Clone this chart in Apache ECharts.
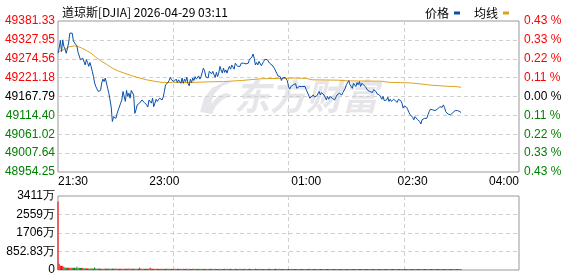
<!DOCTYPE html>
<html><head><meta charset="utf-8">
<script src="https://cdn.jsdelivr.net/npm/echarts@6/dist/echarts.min.js"></script>
<style>html,body{margin:0;padding:0;background:#fff}#c{width:578px;height:276px}</style>
</head><body><div id="c"></div>
<script>
const titleText = '道琼斯[DJIA] 2026-04-29 03:11';
const legendNames = ['价格', '均线'];
const priceTickLabels = ['49381.33','49327.95','49274.56','49221.18','49167.79','49114.40','49061.02','49007.64','48954.25'];
const pctTickLabels = ['0.43 %','0.33 %','0.22 %','0.11 %','0.00 %','0.11 %','0.22 %','0.33 %','0.43 %'];
const volTickLabels = ['0','852.83万','1706万','2559万','3411万'];
const xTickMinutes = [0, 90, 210, 300, 390];
const xTickLabels = ['21:30','23:00','01:00','02:30','04:00'];
const priceMin = 48954.25, priceMax = 49381.33;
const volInterval = 852.83;
const sessionMinutes = 390;

// price per minute since 21:30 (null = not read)
const prices = [
49290,49305,49326,49295,49328,49309,49302,49290,49305,49319,
49347,49352,49347,49326,49319,49317,49311,49292,49290,49272,
49267,49276,49273,49257,49272,49264,49253,49264,49253,49239,
49224,49206,49196,49191,49182,49177,49185,49206,49217,49210,
49220,49215,49191,49177,49158,49138,49097,49111,49116,49106,
49120,49130,49128,49149,49158,49182,49168,49154,49185,49168,
49177,49163,49185,49189,49172,49120,49130,49144,49141,49149,
49151,49158,49163,49151,49156,49144,49138,49158,49163,49149,
49163,49139,49149,49160,49154,49158,49163,49166,49158,49166,
49182,49201,49196,49207,49213,49222,49215,49210,49210,
49212,49217,49207,49215,49217,49205,49220,49205,49217,49210,
49222,49204,49198,49217,49207,49220,49213,49224,49217,49220,
49226,49217,49224,49220,49248,49241,49224,49229,49220,49239,
49236,49232,49239,49229,49222,49236,49224,49234,49253,49243,
49234,49248,49236,49243,49234,49245,49253,49245,49257,49255,
49245,49262,49257,49253,49257,49253,49262,49260,49262,49262,
49260,49262,49262,49273,49272,49279,49288,49276,49257,49264,
49257,49267,49262,49255,49257,49267,49273,49270,49272,49270,
49262,49264,49257,49253,49248,49243,49234,49226,49222,49224,
49213,49220,49217,49222,49220,49213,49196,49189,
49196,49191,49201,49196,49204,49191,null,49196,49201,49196,
49191,null,49196,49187,49182,49172,49163,49168,null,49172,
49166,49168,49170,49175,49182,49172,49179,null,49172,49166,
49158,49168,49160,49168,49172,49163,null,49158,49163,49172,
49170,49177,49182,49172,49179,null,49191,49201,49205,49213,
49201,49196,49191,49205,null,49196,49207,49201,49210,49196,
49205,49207,null,49196,49191,49185,49187,49182,49185,49179,
49187,null,49182,49175,49179,49172,49166,49160,49168,49156,
null,49158,49166,49154,49160,49154,49151,49160,49156,null,
49151,49160,49163,
49156,49149,49135,49141,49141,49137,49130,49122,49116,49120,
49109,49102,49111,49116,49103,49106,49097,49090,49102,49106,
49106,49109,49106,49116,49125,49132,49135,49130,49125,49128,
49125,49132,49135,49139,49141,49137,49144,49137,49125,49120,
49118,49116,49116,49118,49122,49122,49128,49130,49128,49128,
49125,49122
];

// average line readings: minute, value
const avgMinutes = [1,3,6,10,14,17,20,24,28,32,36,41,46,51,56,62,68,75,83,90,98,110,125,140,155,172,190,200,210,215,237,245,274,280,290,299,305,315,328,336,341];
const avgPrices = [49295,49298,49302,49309,49311,49309,49305,49298,49290,49279,49269,49259,49248,49240,49234,49227,49221,49215,49210,49207,49208,49207,49209,49210,49213,49218,49219,49220,49219,49215,49214,49212,49211,49208,49207,49206,49204,49200,49197,49196,49194];

// volume per minute, 万
const volumes = [
3162,290,200,200,180,140,110,105,105,105,100,100,100,105,100,95,150,90,100,95,100,90,85,80,85,
70,65,60,75,68,62,110,66,58,64,
72,60,55,63,58,66,61,57,70,62,
59,64,55,60,68,57,62,54,60,58,
56,63,61,55,59,66,52,60,57,63,
58,54,61,57,105,59,55,62,56,60,
53,58,64,98,57,55,60,52,58,61,
55,50,57,53,60,49,56,52,58,54,
51,56,48,55,53,50,57,52,49,54,
50,55,47,52,58,49,53,51,46,55,
52,48,54,50,47,53,49,56,51,48,
53,47,50,55,49,52,46,51,54,48,
50,46,53,49,51,47,55,48,52,45,
49,53,46,50,48,54,47,51,45,52,
48,51,45,53,47,50,46,52,49,44,
50,47,52,45,49,53,46,48,51,44,
47,51,44,49,52,46,50,45,48,53,
46,49,52,45,48,50,44,51,47,49,
45,50,47,52,44,48,51,46,49,43,
48,45,51,47,50,44,49,46,52,45,
47,50,44,48,51,45,49,43,50,46,
44,49,46,51,45,48,43,50,47,45,
49,44,47,50,46,43,48,45,51,44,
46,48,43,50,45,47,49,44,46,48,
43,47,45,49,44,46,48,42,47,45,
48,44,46,43,49,45,47,44,46,42,
45,47,43,48,44,46,42,47,45,43,
46,42,48,44,45,47,43,46,44,48,
44,46,42,45,47,43,46,44,42,45,
43,45,47,42,46,44,43,45,42,46,
45,43,46,44,42,45,43,47,44,42,
44,42,45,43,46,42,44,43,45,41,
43,41,44,42,40,43,41
];

const UP = '#ff0000', DOWN = '#008000';
const priceData = [];
prices.forEach((p, i) => { if (p !== null) priceData.push([i, p]); });
const avgData = avgMinutes.map((m, i) => [m, avgPrices[i]]);
let last = null, lastColor = UP;
const volData = volumes.map((v, i) => {
  const p = prices[i];
  let c = lastColor;
  if (p !== null && p !== undefined) {
    c = (last === null || p >= last) ? UP : DOWN;
    last = p;
  }
  lastColor = c;
  return { value: [i, v], itemStyle: { color: c } };
});

const FONT = 'Liberation Sans, Arial, sans-serif';
const dash = { show: true, showMinLine: false, showMaxLine: false, lineStyle: { color: '#d0d0d0', type: [4, 3], width: 1 } };
const noLine = { show: false };

const chart = echarts.init(document.getElementById('c'), null, { renderer: 'canvas' });
chart.setOption({
  animation: false,
  textStyle: { fontFamily: FONT },
  title: { text: titleText, left: 57, top: 1, textStyle: { fontSize: 12, fontWeight: 'normal', color: '#000', fontFamily: 'Noto Sans CJK SC' } },
  legend: {
    data: legendNames, right: 64, top: 2, align: 'right', icon: 'rect', itemWidth: 6, itemHeight: 3, itemGap: 14,
    textStyle: { fontSize: 12, color: '#000', fontFamily: 'Noto Sans CJK SC' }
  },
  graphic: [
    { type: 'text', left: 234, top: 78, z: -10, silent: true,
      style: { text: '东方财富', fill: '#e6e6ea', font: 'italic bold 36px "Noto Sans CJK SC"' } },
    { type: 'polygon', left: 200, top: 82, z: -10, silent: true,
      shape: { points: [[2,34],[6,20],[14,10],[26,4],[34,4],[24,8],[16,16],[13,26],[20,18],[28,15],[34,17],[24,22],[18,28],[14,36]] },
      style: { fill: '#e6e6ea' } }
  ],
  grid: [
    { left: 58, right: 59, top: 21, height: 151, show: true, borderColor: '#999', borderWidth: 1 },
    { left: 58, right: 59, top: 196, height: 74, show: true, borderColor: '#999', borderWidth: 1 }
  ],
  xAxis: [
    { gridIndex: 0, type: 'value', min: 0, max: sessionMinutes, interval: 97.5, axisLine: noLine, axisTick: noLine, axisLabel: noLine, splitLine: dash },
    { gridIndex: 0, type: 'value', min: 0, max: sessionMinutes, position: 'bottom', axisLine: noLine, axisTick: noLine, splitLine: noLine,
      axisLabel: { customValues: xTickMinutes, formatter: v => xTickLabels[xTickMinutes.indexOf(v)], alignMinLabel: 'left', alignMaxLabel: 'right', margin: 4, fontSize: 12, color: '#000', fontFamily: FONT } },
    { gridIndex: 1, type: 'value', min: 0, max: sessionMinutes, interval: 97.5, axisLine: noLine, axisTick: noLine, axisLabel: noLine, splitLine: dash }
  ],
  yAxis: [
    { gridIndex: 0, type: 'value', min: priceMin, max: priceMax, show: false },
    { gridIndex: 0, type: 'value', min: 0, max: 8, interval: 1, inverse: true, position: 'left', axisLine: noLine, axisTick: noLine, splitLine: dash,
      axisLabel: { margin: 3, formatter: v => { const i = Math.round(v); const s = i < 4 ? 'r' : (i === 4 ? 'k' : 'g'); return '{' + s + '|' + priceTickLabels[i] + '}'; },
        rich: { r: { color: '#f00', fontSize: 12, fontFamily: FONT }, k: { color: '#000', fontSize: 12, fontFamily: FONT }, g: { color: '#008000', fontSize: 12, fontFamily: FONT } } } },
    { gridIndex: 0, type: 'value', min: 0, max: 8, interval: 1, inverse: true, position: 'right', axisLine: noLine, axisTick: noLine, splitLine: noLine,
      axisLabel: { margin: 5, formatter: v => { const i = Math.round(v); const s = i < 4 ? 'r' : (i === 4 ? 'k' : 'g'); return '{' + s + '|' + pctTickLabels[i] + '}'; },
        rich: { r: { color: '#f00', fontSize: 12, fontFamily: FONT }, k: { color: '#000', fontSize: 12, fontFamily: FONT }, g: { color: '#008000', fontSize: 12, fontFamily: FONT } } } },
    { gridIndex: 1, type: 'value', min: 0, max: volInterval * 4, interval: volInterval, axisLine: noLine, axisTick: noLine, splitLine: dash,
      axisLabel: { margin: 3, fontSize: 12, color: '#000', fontFamily: FONT, formatter: v => volTickLabels[Math.round(v / volInterval)] } }
  ],
  series: [
    { name: '均线', type: 'line', xAxisIndex: 0, yAxisIndex: 0, data: avgData, showSymbol: false, lineStyle: { color: '#dca21e', width: 1 }, itemStyle: { color: '#dca21e' }, z: 2 },
    { name: '价格', type: 'line', xAxisIndex: 0, yAxisIndex: 0, data: priceData, connectNulls: true, showSymbol: false, lineStyle: { color: '#0a50a8', width: 1 }, itemStyle: { color: '#0a50a8' }, z: 3 },
    { type: 'bar', xAxisIndex: 2, yAxisIndex: 3, barWidth: 1, data: volData }
  ]
});
</script></body></html>
